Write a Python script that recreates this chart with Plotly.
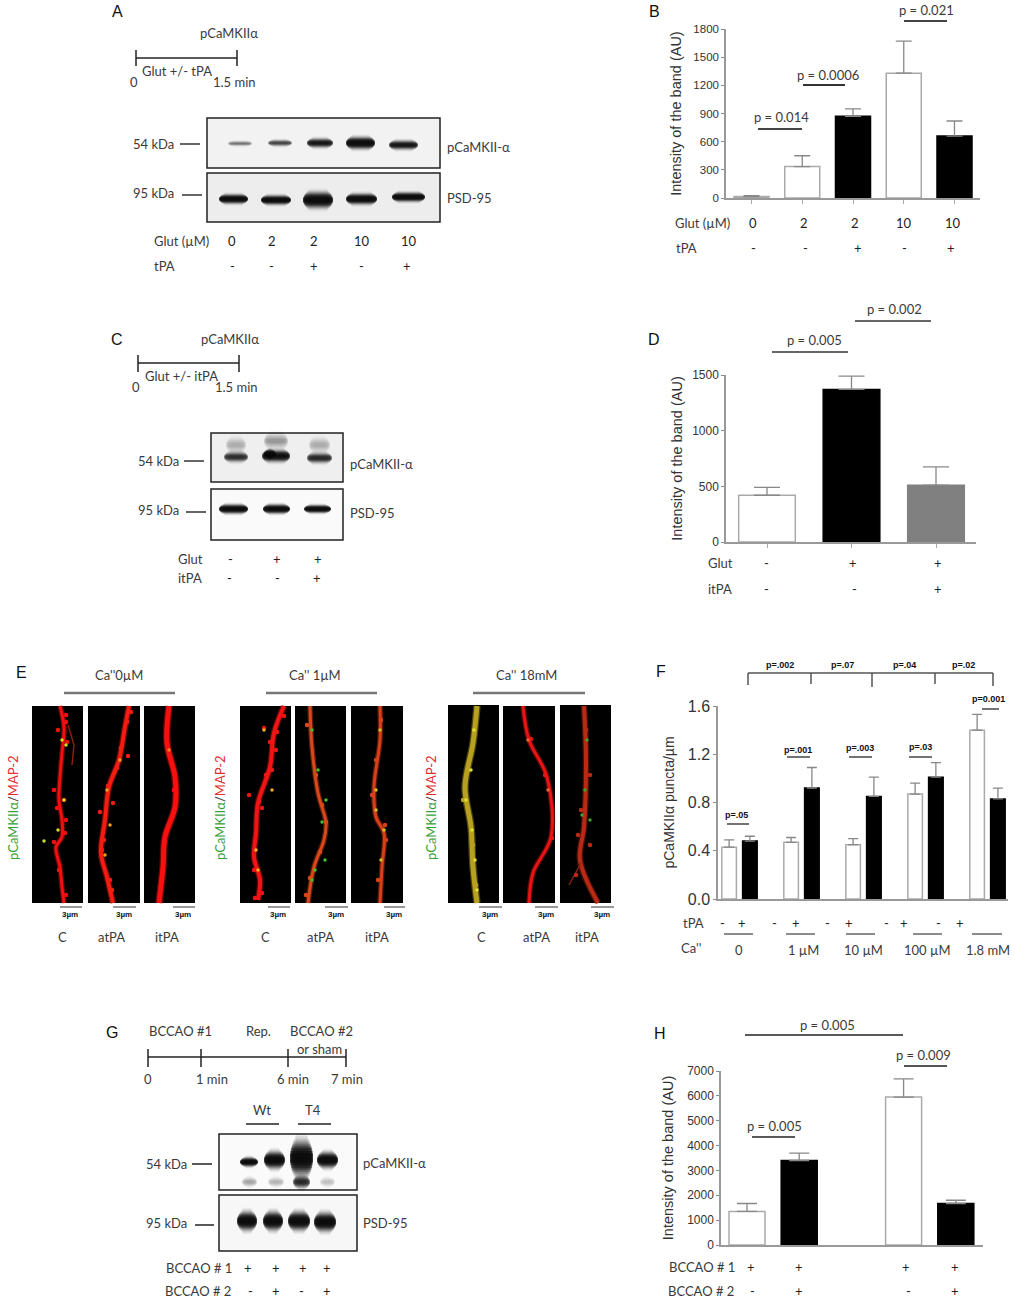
import plotly.graph_objects as go

W, H = 1015, 1300
TXT = "#3a3a3a"
LBL = "Lato"
ARIAL = "Liberation Sans"

# ---------- chart values ----------
b_x = [0, 1, 2, 3, 4]
b_val = [15, 335, 870, 1330, 660]
b_err = [10, 115, 80, 340, 160]
b_fill = ["white", "white", "black", "white", "black"]

d_x = [0, 1, 2]
d_val = [420, 1370, 510]
d_err = [70, 120, 165]
d_fill = ["white", "black", "#808080"]

f_x = [0, 1, 2, 3, 4]
f_ctrl = [0.43, 0.47, 0.45, 0.87, 1.40]
f_ctrl_err = [0.06, 0.04, 0.05, 0.09, 0.13]
f_tpa = [0.48, 0.92, 0.85, 1.01, 0.83]
f_tpa_err = [0.04, 0.17, 0.16, 0.12, 0.09]

h_x = [0, 1, 3, 4]
h_val = [1350, 3400, 5950, 1670]
h_err = [320, 300, 730, 130]
h_fill = ["white", "black", "white", "black"]

# ---------- blot bands: x-start, x-end, y, thickness, darkness ----------
bands_a_top = [(228, 252, 143.5, 4, .22), (268, 292, 143, 5, .38), (307, 333, 143, 7, .72),
               (346, 375, 143, 9, .98), (389, 418, 145, 7, .72)]
bands_a_bot = [(219, 248, 199, 7, 1), (261, 291, 200, 7, 1), (303, 333, 200, 12, 1),
               (346, 377, 199, 8, 1), (392, 425, 197, 7, 1)]
bands_c_top = [(224, 248, 457, 8, .5), (262, 290, 456, 9, .85), (264, 276, 454, 7, 1),
               (307, 332, 458, 8, .55), (226, 246, 445, 12, .1), (264, 288, 441, 12, .14), (309, 330, 445, 12, .1)]
bands_c_bot = [(219, 248, 509, 7, 1), (263, 290, 509, 7, 1), (304, 331, 509, 6, 1)]
bands_g_top = [(240, 258, 1162, 7, 1), (264, 285, 1160, 13, 1), (290, 313, 1158, 26, 1), (317, 338, 1160, 12, 1),
               (242, 257, 1182, 8, .13), (268, 284, 1182, 8, .1), (293, 310, 1182, 10, .55), (320, 335, 1182, 8, .08)]
bands_g_bot = [(237, 257, 1221, 14, 1), (263, 283, 1221, 14, 1), (288, 310, 1221, 14, 1), (314, 336, 1222, 14, 1)]
all_bands = bands_a_top + bands_a_bot + bands_c_top + bands_c_bot + bands_g_top + bands_g_bot
band_layers = [(1.9, 6, .06), (1.7, 5, .08), (1.5, 4.2, .12), (1.35, 3.4, .16), (1.2, 2.6, .22),
               (1.05, 2, .3), (.9, 1.4, .4), (.75, .9, .5), (.55, .4, .6), (.35, 0, .7)]

blot_boxes = [(207, 118, 440, 168, "#f2f2f2"), (207, 173, 440, 222, "#ededed"),
              (211, 433, 343, 482, "#efefef"), (211, 489, 343, 540, "#fafafa"),
              (219, 1134, 357, 1190, "#fafafa"), (219, 1195, 357, 1251, "#f7f7f7")]

# ---------- micrograph panels ----------
micro_boxes = [(32, 706, 83, 903), (88, 706, 140, 903), (144, 706, 195, 903),
               (240, 706, 291, 903), (295, 706, 346, 903), (351, 706, 403, 903),
               (448, 705, 499, 903), (503, 706, 555, 903), (560, 705, 611, 903)]
dend_x = [[60, 64, 62, 60, 59, 62, 62, 56, 60, 62, 64],
          [129, 125, 119, 109, 105, 101, 107, 113],
          [169, 167, 175, 175, 165, 163, 159],
          [284, 274, 270, 258, 256, 254, 260, 258],
          [310, 312, 318, 326, 324, 314, 308],
          [380, 380, 374, 376, 384, 382, 380],
          [477, 473, 465, 471, 473, 477],
          [523, 529, 547, 551, 533, 529],
          [584, 586, 584, 580, 598]]
dend_y = [[706, 727, 753, 777, 800, 820, 837, 847, 867, 887, 903],
          [706, 727, 760, 787, 820, 853, 877, 903],
          [706, 743, 777, 807, 837, 867, 903],
          [706, 733, 767, 803, 833, 857, 880, 900],
          [706, 747, 793, 823, 840, 867, 903],
          [706, 740, 787, 817, 833, 867, 903],
          [706, 743, 787, 827, 867, 903],
          [706, 740, 777, 837, 873, 903],
          [706, 760, 827, 860, 903]]
dend_col = ["#f01010", "#f41c10", "#f81010", "#f01414", "#d8481a", "#d8401a", "#b8a020", "#e81414", "#b82a14"]
dend_wid = [3, 4, 5, 4, 3, 3, 5, 3, 4]
bump_x = [[66, 66, 58, 67, 54, 64, 57, 65, 54, 66, 59, 66], [131, 127, 121, 128, 117, 108, 113, 100, 102, 104, 110, 112],
          [168, 174], [284, 264, 277, 270, 276, 266, 272, 259, 249, 262, 254, 262, 255],
          [307, 316, 322, 326, 320, 310, 306], [381, 376, 372, 385, 386, 378], [474, 468, 463, 473, 476], [531, 545, 552],
          [586, 590, 581, 578, 590, 576]]
bump_y = [[715, 722, 730, 742, 790, 800, 808, 833, 842, 820, 870, 895], [712, 722, 748, 756, 768, 786, 803, 812, 850, 840, 880, 890],
          [745, 790], [716, 728, 732, 742, 750, 775, 770, 802, 795, 808, 870, 893, 898],
          [725, 775, 805, 822, 852, 878, 895], [720, 760, 795, 825, 840, 880], [730, 770, 800, 845, 885], [739, 775, 838],
          [730, 775, 810, 835, 845, 875]]
speck_x = [[62, 64, 58, 44, 66], [107, 110, 120, 105], [169], [264, 272, 256, 258], [312, 318, 326, 322, 312, 315, 325],
           [380, 376, 376, 384, 381], [474, 471, 466, 472, 475, 477], [528, 548], [587, 585, 582, 590]]
speck_y = [[740, 800, 830, 841, 745], [790, 825, 760, 855], [750], [730, 790, 850, 870], [730, 770, 800, 822, 880, 870, 860],
           [730, 790, 810, 830, 860], [730, 770, 800, 830, 860, 890], [740, 790], [740, 790, 815, 820]]
speck_col = ["#c8e020", "#f0a020", "#f08020", "#f0b020", "#40c030", "#c8c020", "#e0e030", "#f06030", "#40a030"]
branch_x = [[581, 569], [68, 74, 72]]
branch_y = [[863, 885], [725, 745, 765]]

# ---------- text ----------
letters = [("A", 117, 11), ("B", 654, 11), ("C", 117, 339), ("D", 654, 339),
           ("E", 21, 672), ("F", 661, 671), ("G", 112, 1032), ("H", 660, 1033)]
center_texts = [("pCaMKIIα", 229, 33), ("Glut +/- tPA", 177, 71), ("0", 134, 82), ("1.5 min", 234, 82),
                ("54 kDa", 153, 144), ("95 kDa", 153, 193),
                ("pCaMKIIα", 230, 339), ("Glut +/- itPA", 181, 376), ("0", 136, 387), ("1.5 min", 236, 387),
                ("54 kDa", 158, 461), ("95 kDa", 158, 510),
                ("BCCAO #1", 180, 1031), ("Rep.", 258, 1031), ("BCCAO #2", 321, 1031), ("or sham", 319, 1049),
                ("0", 148, 1079), ("1 min", 212, 1079), ("6 min", 293, 1079), ("7 min", 347, 1079),
                ("Wt", 262, 1110), ("T4", 313, 1110), ("54 kDa", 166, 1164), ("95 kDa", 166, 1223),
                ("BCCAO # 1", 199, 1268), ("BCCAO # 2", 198, 1291),
                ("Ca''0µM", 119, 675), ("Ca'' 1µM", 315, 675), ("Ca'' 18mM", 526, 675),
                ("C", 62, 937), ("atPA", 111, 937), ("itPA", 167, 937),
                ("C", 265, 937), ("atPA", 320, 937), ("itPA", 377, 937),
                ("C", 481, 937), ("atPA", 536, 937), ("itPA", 587, 937),
                ("tPA", 693, 923), ("Ca''", 691, 948),
                ("0", 739, 950), ("1 µM", 803, 950), ("10 µM", 863, 950), ("100 µM", 927, 950), ("1.8 mM", 988, 950),
                ("p = 0.014", 781, 117), ("p = 0.0006", 828, 75), ("p = 0.021", 926, 10),
                ("p = 0.005", 814, 340), ("p = 0.002", 894, 309),
                ("p = 0.005", 827, 1025), ("p = 0.009", 923, 1055), ("p = 0.005", 774, 1126)]
left_texts = [("pCaMKII-α", 445, 147), ("PSD-95", 445, 198), ("Glut (µM)", 152, 241), ("tPA", 152, 266),
              ("pCaMKII-α", 348, 464), ("PSD-95", 348, 513), ("Glut", 176, 559), ("itPA", 176, 578),
              ("pCaMKII-α", 361, 1163), ("PSD-95", 361, 1223),
              ("Glut (µM)", 673, 223), ("tPA", 674, 248), ("Glut", 706, 563), ("itPA", 706, 589),
              ("BCCAO # 1", 667, 1267), ("BCCAO # 2", 666, 1291)]
row_values = [(["0", "2", "2", "10", "10"], [232, 272, 314, 362, 409], 241),
              (["-", "-", "+", "-", "+"], [232, 271, 314, 361, 407], 266),
              (["-", "+", "+"], [230, 277, 318], 559), (["-", "-", "+"], [229, 277, 317], 578),
              (["+", "+", "+", "+"], [248, 276, 303, 327], 1268), (["-", "+", "-", "+"], [250, 276, 301, 327], 1291),
              (["0", "2", "2", "10", "10"], [753, 804, 855, 904, 953], 223),
              (["-", "-", "+", "-", "+"], [753, 805, 858, 904, 951], 248),
              (["-", "+", "+"], [766, 853, 938], 563), (["-", "-", "+"], [766, 854, 938], 589),
              (["-", "+", "-", "+", "-", "+", "-", "+", "-", "+"], [722, 742, 774, 796, 827, 849, 886, 904, 938, 960], 923),
              (["+", "+", "+", "+"], [751, 799, 906, 955], 1267), (["-", "+", "-", "+"], [752, 799, 908, 955], 1291)]
small_p = [("p=.002", 780, 665), ("p=.07", 842, 665), ("p=.04", 904, 665), ("p=.02", 963, 665),
           ("p=.05", 736, 815), ("p=.001", 798, 750), ("p=.003", 860, 748), ("p=.03", 920, 747), ("p=0.001", 988, 699)]
scale_x = [(60, 82), (113, 136), (173, 195), (268, 290), (325, 348), (384, 405), (479, 502), (535, 558), (591, 614)]
vert_x = [13, 220, 431]

# ---------- decorative rules: x0, y0, x1, y1, colour, width ----------
rules = [
    (136, 58, 237, 58, "#222", 1.5), (136, 50, 136, 66, "#222", 1.5), (237, 50, 237, 66, "#222", 1.5),
    (180, 144, 200, 144, "#333", 1.5), (182, 195, 202, 195, "#333", 1.5),
    (138, 363, 239, 363, "#222", 1.5), (138, 355, 138, 372, "#222", 1.5), (239, 355, 239, 372, "#222", 1.5),
    (184, 461, 204, 461, "#333", 1.5), (186, 512, 206, 512, "#333", 1.5),
    (148, 1057, 346, 1057, "#222", 1.5), (148, 1049, 148, 1067, "#222", 1.5), (201, 1049, 201, 1067, "#222", 1.5),
    (288, 1049, 288, 1067, "#222", 1.5), (346, 1049, 346, 1067, "#222", 1.5),
    (246, 1124, 279, 1124, "#222", 1.5), (298, 1124, 331, 1124, "#222", 1.5),
    (192, 1164, 212, 1164, "#222", 1.5), (195, 1225, 214, 1225, "#222", 1.5),
    (758, 129, 802, 129, "#444", 2), (803, 85, 845, 85, "#333", 2), (904, 21, 947, 21, "#444", 2),
    (772, 352, 848, 352, "#666", 2), (855, 321, 931, 321, "#666", 2),
    (745, 1035, 903, 1035, "#222", 1.5), (904, 1066, 947, 1066, "#555", 2), (752, 1137, 795, 1137, "#222", 1.5),
    (64, 693, 175, 693, "#777", 2.5), (266, 693, 377, 693, "#777", 2.5), (473, 693, 585, 693, "#777", 2.5),
    (748, 673, 993, 673, "#555", 1.5), (748, 673, 748, 685, "#555", 1.5), (811, 673, 811, 684, "#555", 1.5),
    (872, 673, 872, 687, "#555", 1.5), (935, 673, 935, 684, "#555", 1.5), (993, 673, 993, 686, "#555", 1.5),
    (727, 824, 749, 824, "#444", 1.5), (787, 757, 810, 757, "#444", 1.5), (849, 757, 872, 757, "#444", 1.5),
    (909, 757, 932, 757, "#444", 1.5), (982, 709, 999, 709, "#444", 1.5),
    (724, 934, 753, 934, "#666", 1.5), (786, 934, 815, 934, "#666", 1.5), (846, 934, 875, 934, "#666", 1.5),
    (913, 934, 942, 934, "#666", 1.5), (972, 934, 1002, 934, "#666", 1.5),
]

fig = go.Figure()
shapes, annos = [], []


def add_text(t, x, y, size=13, color=TXT, family=LBL, anchor="center", angle=0):
    annos.append(dict(text=t, x=x, y=y, xref="x9", yref="y9", showarrow=False, xanchor=anchor, yanchor="middle",
                      font=dict(size=size, color=color, family=family), textangle=angle))


# ---------- page layer (pixel axes) ----------
for x0, y0, x1, y1, c in blot_boxes:
    shapes.append(dict(type="rect", xref="x9", yref="y9", x0=x0, y0=y0, x1=x1, y1=y1, fillcolor=c,
                       line=dict(color="#222", width=1.5), layer="below"))
for x0, y0, x1, y1 in micro_boxes:
    shapes.append(dict(type="rect", xref="x9", yref="y9", x0=x0, y0=y0, x1=x1, y1=y1, fillcolor="black",
                       line=dict(color="black", width=0), layer="below"))
for x0, y0, x1, y1, c, w in rules:
    shapes.append(dict(type="line", xref="x9", yref="y9", x0=x0, y0=y0, x1=x1, y1=y1, line=dict(color=c, width=w)))
for x0, x1 in scale_x:
    shapes.append(dict(type="line", xref="x9", yref="y9", x0=x0, y0=907, x1=x1, y1=907, line=dict(color="#777", width=1.5)))
    add_text("<b>3µm</b>", (x0 + x1) / 2 - 1, 914, size=8, color="#111", family=ARIAL)


def page_trace(xs, ys, **kw):
    fig.add_trace(go.Scatter(x=xs, y=ys, xaxis="x9", yaxis="y9", hoverinfo="skip", showlegend=False, **kw))


# soft blot bands from stacked strokes, lens shaped
for x0, x1, y, th, dark in all_bands:
    for grow, shrink, alpha in band_layers:
        if x1 - x0 - 2 * shrink <= 0:
            continue
        page_trace([x0 + shrink, x1 - shrink], [y, y], mode="lines",
                   line=dict(color=f"rgba(10,10,10,{alpha * dark:.3f})", width=th * grow))

# dendrites
for xs, ys, col, wd in zip(dend_x, dend_y, dend_col, dend_wid):
    page_trace(xs, ys, mode="lines", line=dict(color=col, width=wd + 2.5, shape="spline"), opacity=.4)
    page_trace(xs, ys, mode="lines", line=dict(color=col, width=wd, shape="spline"))
for xs, ys in zip(branch_x, branch_y):
    page_trace(xs, ys, mode="lines", line=dict(color="#8a2010", width=1.5))
for xs, ys, col in zip(bump_x, bump_y, dend_col):
    page_trace(xs, ys, mode="markers", marker=dict(color=col, size=4.5))
for xs, ys, col in zip(speck_x, speck_y, speck_col):
    page_trace(xs, ys, mode="markers", marker=dict(color=col, size=3.5))

for t, x, y in letters:
    add_text(t, x, y, size=16, color="#111", family=ARIAL)
for t, x, y in center_texts:
    add_text(t, x, y)
for t, x, y in left_texts:
    add_text(t, x, y, anchor="left")
for vals, xs, y in row_values:
    for v, x in zip(vals, xs):
        add_text(v, x, y, color="#222")
for t, x, y in small_p:
    add_text(f"<b>{t}</b>", x, y, size=9, color="#111", family=ARIAL)
for x in vert_x:
    add_text('<span style="color:#3aa03a">pCaMKIIα</span><span style="color:#333">/</span><span style="color:#e03030">MAP-2</span>',
             x, 808, size=13, angle=-90)


# ---------- bar charts ----------
def axes(n, px0, px1, top_px, zero_px, x_center0, spacing, ymax, dtick, title, title_standoff, tick_size=12, title_size=14.5, vals=None):
    xa = dict(domain=[px0 / W, px1 / W], anchor=f"y{n}", range=[(px0 - x_center0) / spacing, (px1 - x_center0) / spacing],
              showline=True, linecolor="#999", linewidth=1.5, showgrid=False, zeroline=False,
              tickmode="array", tickvals=vals, ticktext=["" for _ in vals], ticks="outside", ticklen=4, tickcolor="#aaa")
    ya = dict(domain=[1 - zero_px / H, 1 - top_px / H], anchor=f"x{n}", range=[0, ymax], dtick=dtick,
              showline=True, linecolor="#999", linewidth=1.5, showgrid=False, zeroline=False,
              ticks="outside", ticklen=3, tickcolor="#888",
              tickfont=dict(family=ARIAL, size=tick_size, color="#333"),
              title=dict(text=title, standoff=title_standoff, font=dict(family=ARIAL, size=title_size, color="#333")))
    return {f"xaxis{n}": xa, f"yaxis{n}": ya}


def bars(n, xs, ys, errs, fills, width, cap, offset=None):
    fig.add_trace(go.Bar(x=xs, y=ys, xaxis=f"x{n}", yaxis=f"y{n}", width=width, offset=offset, showlegend=False,
                         marker=dict(color=fills,
                                     line=dict(color=["#aaaaaa" if c == "white" else c for c in fills], width=1.5)),
                         error_y=dict(type="data", array=errs, symmetric=False, arrayminus=[0] * len(errs),
                                      color="#888888", thickness=1.3, width=cap)))


layout_axes = {}
layout_axes.update(axes(2, 726, 980, 29, 198, 751.5, 50.75, 1800, 300, "Intensity of the band (AU)", 8, tick_size=11.5, vals=b_x))
layout_axes.update(axes(3, 726, 976, 375, 542, 767, 84.5, 1500, 500, "Intensity of the band (AU)", 6, vals=d_x))
layout_axes.update(axes(4, 718, 1008, 706, 899, 739.5, 62, 1.6, 0.4, "pCaMKIIα puncta/µm", 10, tick_size=16, title_size=14, vals=[]))
layout_axes.update(axes(5, 721, 983, 1071, 1245, 747, 52.2, 7000, 1000, "Intensity of the band (AU)", 10, vals=[]))
layout_axes["yaxis4"]["tickformat"] = ".1f"

bars(2, b_x, b_val, b_err, b_fill, 0.69, 8)
bars(3, d_x, d_val, d_err, d_fill, 0.67, 13)
bars(4, f_x, f_ctrl, f_ctrl_err, ["white"] * 5, 0.235, 5, offset=-0.285)
bars(4, f_x, f_tpa, f_tpa_err, ["black"] * 5, 0.235, 5, offset=0.05)
bars(5, h_x, h_val, h_err, h_fill, 0.69, 10)

fig.update_layout(
    width=W, height=H, margin=dict(l=0, r=0, t=0, b=0, autoexpand=False), paper_bgcolor="white", plot_bgcolor="rgba(0,0,0,0)",
    barmode="overlay", showlegend=False, shapes=shapes, annotations=annos,
    xaxis9=dict(domain=[0, 1], range=[0, W], visible=False, fixedrange=True, anchor="y9"),
    yaxis9=dict(domain=[0, 1], range=[H, 0], visible=False, fixedrange=True, anchor="x9"),
    **layout_axes,
)
fig.write_html("out.html", config=dict(displayModeBar=False), post_script="document.body.style.margin='0';")
